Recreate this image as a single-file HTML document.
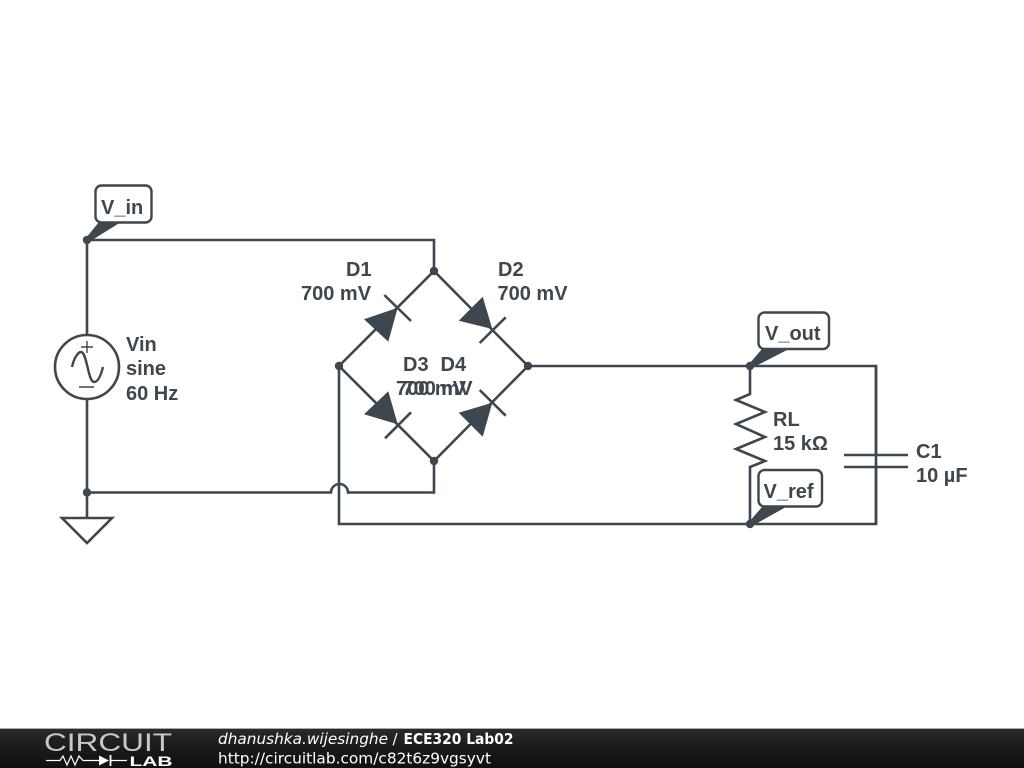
<!DOCTYPE html>
<html>
<head>
<meta charset="utf-8">
<style>
html,body{margin:0;padding:0;background:#fff;width:1024px;height:768px;overflow:hidden}
svg{display:block}
.w{fill:none;stroke:#3d474d;stroke-width:2.6;stroke-linejoin:miter}
.n{fill:none;stroke:#3d474d;stroke-width:1.4}
.t{font-family:"Liberation Sans",sans-serif;font-weight:bold;font-size:20px;fill:#3d474d}
.d{fill:#3d474d;stroke:none}
.tag{fill:#fff;stroke:#3d474d;stroke-width:2.4}
.f{font-family:"DejaVu Sans",sans-serif;font-size:15px;fill:#fff}
</style>
</head>
<body>
<svg width="1024" height="768" viewBox="0 0 1024 768" xmlns="http://www.w3.org/2000/svg">
<defs>
<linearGradient id="g" x1="0" y1="0" x2="0" y2="1">
<stop offset="0" stop-color="#2a2a2a"/>
<stop offset="0.5" stop-color="#1a1a1a"/>
<stop offset="1" stop-color="#101010"/>
</linearGradient>
</defs>
<rect width="1024" height="768" fill="#fff"/>

<!-- wires -->
<path class="w" d="M87 335V240H434V271"/>
<path class="w" d="M87 399V518"/>
<path class="w" d="M87 492.500H331A8.500 8.500 0 0 1 348 492.500H434V461"/>
<path class="w" d="M339 366V524H876V366H528"/>
<path class="w" d="M876 366V455M876 467V524"/>
<path class="w" d="M844 455H908M844 467H908"/>
<path class="w" d="M750 366V394L736 400L765 412L736 424L765 437L736 449L765 461L750 467V524"/>
<path class="w" d="M339 366L434 271L528 366L434 461Z"/>

<!-- diodes -->
<polygon class="d" points="397.700,307.700 364,319.300 388.300,341.700"/>
<path class="w" d="M384.300 295L411 321"/>
<polygon class="d" points="492.300,329 482.700,296.700 458.700,320.700"/>
<path class="w" d="M505.700 317.300L479.700 343"/>
<polygon class="d" points="397.700,424.300 388.300,391.300 364,414.300"/>
<path class="w" d="M411 412.300L385 438.300"/>
<polygon class="d" points="492.300,402.700 458.700,412.700 482.700,436.700"/>
<path class="w" d="M479.700 390L505.700 415.700"/>

<!-- source -->
<circle cx="87" cy="367" r="32" fill="#fff" stroke="#3d474d" stroke-width="2.6"/>
<path class="n" d="M87 341V353M81 347H93M79 387H94"/>
<path class="w" d="M72 367C74 358 78 352 81 352C87 352 88 382 94 382C98 382 101 375 103 367" style="stroke-width:2.4"/>

<!-- ground -->
<path class="w" d="M62 518H112L87 543Z"/>

<!-- junctions -->
<g class="d">
<circle cx="87" cy="240" r="4.200"/>
<circle cx="87" cy="492.500" r="4.200"/>
<circle cx="434" cy="271" r="4.200"/>
<circle cx="339" cy="366" r="4.200"/>
<circle cx="528" cy="366" r="4.200"/>
<circle cx="434" cy="461" r="4.200"/>
<circle cx="750" cy="366" r="4.200"/>
<circle cx="750" cy="524" r="4.200"/>
</g>

<!-- tags -->
<polygon class="d" points="86,238 89,242 121,222 99,222"/>
<rect class="tag" x="95.500" y="185.500" width="56" height="37" rx="6"/>
<polygon class="d" points="749,364 752,368 789,349 762,349"/>
<rect class="tag" x="758.500" y="312.500" width="70.500" height="36.500" rx="6"/>
<polygon class="d" points="749,522 752,526 786,507 762,507"/>
<rect class="tag" x="758.500" y="470" width="63.500" height="36.500" rx="6"/>
<text class="t" x="101" y="214">V_in</text>
<text class="t" x="765" y="340">V_out</text>
<text class="t" x="763.500" y="498">V_ref</text>

<!-- labels -->
<text class="t" x="346" y="276">D1</text>
<text class="t" x="301" y="300">700 mV</text>
<text class="t" x="498" y="276">D2</text>
<text class="t" x="497.500" y="300">700 mV</text>
<text class="t" x="403" y="371">D3</text>
<text class="t" x="396" y="395">700 mV</text>
<text class="t" x="440.500" y="371">D4</text>
<text class="t" x="402.500" y="395">700 mV</text>
<text class="t" x="126" y="351">Vin</text>
<text class="t" x="126" y="375">sine</text>
<text class="t" x="126" y="400">60 Hz</text>
<text class="t" x="773" y="426">RL</text>
<text class="t" x="773" y="450">15 kΩ</text>
<text class="t" x="916" y="458">C1</text>
<text class="t" x="916" y="482">10 µF</text>

<!-- footer -->
<rect x="0" y="729" width="1024" height="39" fill="url(#g)"/>
<rect x="0" y="728" width="1024" height="1" fill="#aaa"/>
<text x="44" y="751" font-family="Liberation Sans,sans-serif" font-size="25" fill="#c8c8c8" textLength="128" lengthAdjust="spacingAndGlyphs" style="font-weight:normal">CIRCUIT</text>
<path d="M46 760.500H60L63 756L67 765L71 756L75 765L79 756L83 760.500H99M111 760.500H127" fill="none" stroke="#fff" stroke-width="1.200"/>
<polygon points="99,755.500 109,760.500 99,765.500" fill="#fff"/>
<path d="M110.500 755V766" stroke="#fff" stroke-width="1.800"/>
<text x="129.500" y="766" font-family="Liberation Sans,sans-serif" font-weight="bold" font-size="14" fill="#fff" textLength="43" lengthAdjust="spacingAndGlyphs">LAB</text>
<text class="f" x="218" y="744" font-style="italic" textLength="170" lengthAdjust="spacingAndGlyphs">dhanushka.wijesinghe</text>
<text class="f" x="392.500" y="744">/</text>
<text class="f" x="403.500" y="744" font-weight="bold" textLength="110" lengthAdjust="spacingAndGlyphs">ECE320 Lab02</text>
<text class="f" x="218" y="763.500" textLength="273" lengthAdjust="spacingAndGlyphs">http://circuitlab.com/c82t6z9vgsyvt</text>
</svg>
</body>
</html>
